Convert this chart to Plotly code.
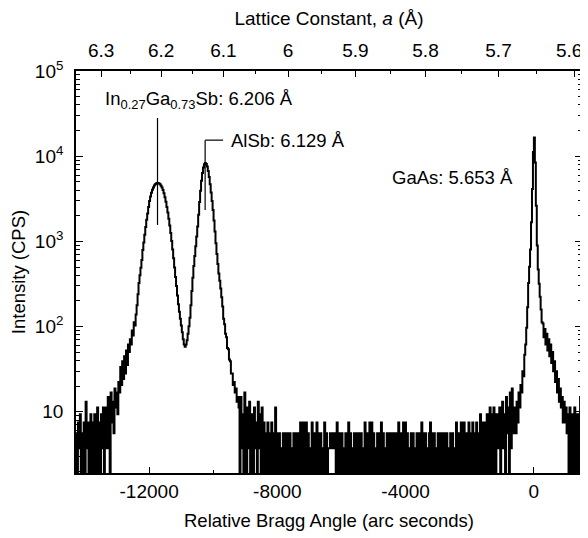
import numpy as np
import plotly.graph_objects as go

# ---------------- data ----------------
# omega-2theta scan: start / step in arc seconds, dwell time per step (s)
scan_start = -14280.0
scan_step = 30.0
count_time = 0.535

# counts per step, region by region (left to right)
counts_left_bg = [3, 1, 4, 2, 5, 1, 3, 1, 4, 1, 7, 2, 4, 1, 3, 5, 1, 4, 1, 5, 1, 3, 6, 1, 4, 1, 5, 2, 6, 1, 5]
counts_ingasb_rise = [6, 2, 8, 3, 1, 9, 4, 7, 3, 10, 6, 9, 5, 12,
                      9, 18, 11, 21, 13, 24, 15, 28, 19, 33,
                      27, 38, 33, 48, 42, 60, 55, 74,
                      95, 128, 174, 214, 263, 324]
counts_ingasb_peak = [424, 520, 640, 790, 960, 1140, 1360, 1600, 1800, 1990, 2160, 2300,
                      2420, 2510, 2560, 2590, 2590, 2560, 2500, 2410, 2290, 2140, 1960, 1760,
                      1560, 1360, 1170, 990, 820, 670, 540, 430, 340, 265, 205, 160, 124, 98,
                      80, 66, 55, 46, 38, 33]
counts_valley_alsb = [31, 33, 37, 44, 54, 68, 95, 140, 200, 275, 360, 470, 610,
                      800, 1100, 1550, 2100, 2750, 3400, 3950, 4300, 4440, 4350,
                      4050, 3600, 3050, 2500, 2000, 1600, 1250, 940, 700, 510,
                      380, 290, 225, 185, 150, 118, 92, 66, 57, 44, 40, 30, 29, 22,
                      21, 15, 15, 11, 12, 9, 10, 7, 8]
counts_alsb_tail = [6, 1, 8, 2, 5, 1, 9, 3, 1, 6, 2, 7, 1, 5, 3, 1, 6, 2, 4, 1, 7, 2, 5, 1, 6, 1]
counts_background = [4, 1, 3, 1, 4, 1, 3, 1, 4, 1, 3, 1, 6, 1,
                     3, 1, 3, 1, 2, 1, 3, 1, 3, 1, 2, 3, 1, 3, 1, 2, 1, 3, 3, 1, 3, 1, 3, 1,
                     4, 1, 3, 4, 1, 3, 4, 1,
                     3, 1, 2, 1, 4, 1, 3, 1, 3, 4, 1, 3, 1, 3, 1, 2, 1, 4, 1, 3, 1, 2,
                     2, 3, 2, 3, 2, 2, 3, 1, 4, 1, 3, 2, 1,
                     3, 1, 2, 1, 3, 1, 3, 4, 1, 3, 1, 2, 1, 3, 1, 3, 1, 2, 3, 1, 3, 1, 2, 1, 4,
                     1, 3, 1, 3, 4, 1, 4, 1, 3, 1, 2, 1, 3, 1, 3, 1, 4, 1, 3, 1, 2, 1, 3, 1, 3, 1, 2, 3, 1, 3,
                     1, 3, 1, 3, 4, 1, 3, 1, 3, 4, 1, 4, 1, 3, 1, 2, 1, 3, 1, 3, 1, 2, 1, 3, 1, 3, 1, 3, 4, 1,
                     3, 1, 3, 1, 2, 1, 3, 4, 1, 3, 1, 3, 1, 2, 1, 3, 1, 3, 1, 2,
                     3, 1, 3, 1, 3, 1, 2, 1, 3, 1, 3, 1, 2, 1, 4, 1, 3, 1, 3, 4,
                     1, 3, 4, 1, 3, 1, 3, 4, 1, 3, 1, 4, 1, 3, 1, 4, 1, 3, 1, 5, 1, 4, 1, 4, 1, 3, 5, 1, 4, 6,
                     1, 5, 1, 6, 3, 1, 5, 2, 4, 6, 1, 4, 7, 2, 5, 1, 8, 3, 6, 1, 9, 2, 10]
counts_gaas = [4, 3, 6, 3, 7, 4, 9, 6, 11, 9, 16, 14, 25, 33, 52, 90, 174,
               270, 430, 900, 2200, 6000, 8880, 4500, 1400, 480, 250, 170, 120, 85, 60,
               58, 40, 50, 33, 44, 28, 38, 24, 33, 20, 27, 16, 21, 12, 16, 9, 13, 7, 10, 6,
               8, 4, 7, 4, 6, 3, 5]
counts_right_bg = [1, 6, 1, 5, 1, 4, 6, 1, 3, 5, 1, 4, 8, 1, 5]

# peaks and top-axis lattice constants (Angstrom)
a_gaas = 5.653
a_alsb = 6.129
a_ingasb = 6.206
lattice_ticks = [6.3, 6.2, 6.1, 6.0, 5.9, 5.8, 5.7, 5.6]
lattice_labels = ["6.3", "6.2", "6.1", "6", "5.9", "5.8", "5.7", "5.6"]
lattice_minor = [6.25, 6.15, 6.05, 5.95, 5.85, 5.75, 5.65]

angle_ticks = [-12000, -8000, -4000, 0]
angle_labels = ["-12000", "-8000", "-4000", "0"]
angle_minor = [-14000, -10000, -6000, -2000]

# (004) reflection, Cu K-alpha1
wavelength = 1.5406
hkl_sq = 16


def bragg_offset(a):
    """Relative Bragg angle (arc s) of lattice constant a vs GaAs."""
    k = wavelength * np.sqrt(hkl_sq) / 2.0
    th = np.degrees(np.arcsin(k / np.asarray(a, dtype=float)))
    th0 = np.degrees(np.arcsin(k / a_gaas))
    return (th - th0) * 3600.0


counts = np.array(counts_left_bg + counts_ingasb_rise + counts_ingasb_peak + counts_valley_alsb
                  + counts_alsb_tail + counts_background + counts_gaas + counts_right_bg, dtype=float)
angle = scan_start + scan_step * np.arange(len(counts))
cps = counts / count_time

x_range = [scan_start, angle[-1]]
y_range = [np.log10(1.91), 5.0005]

FONT = "Liberation Sans, Arial, Helvetica, sans-serif"
TICK = 19
TXT = 18.5

fig = go.Figure()
fig.add_trace(go.Scatter(x=angle, y=cps, mode="lines",
                         line=dict(color="black", width=2.0, shape="hv"),
                         showlegend=False, hoverinfo="skip"))
fig.add_trace(go.Scatter(x=angle, y=cps, xaxis="x2", mode="lines",
                         line=dict(color="rgba(0,0,0,0)", width=0),
                         showlegend=False, hoverinfo="skip"))

ymin_dec = [m * 10 ** d for d in range(0, 5) for m in range(2, 10)]

# the last top label sits at the figure edge: it is drawn right-aligned as an annotation
top_ticktext = lattice_labels[:-1] + [""]

# the page body adds an 8 px offset, so the figure is 8 px smaller than the window
fig.update_layout(
    width=580, height=530,
    margin=dict(l=68, r=6, t=63, b=65),
    paper_bgcolor="white", plot_bgcolor="white",
    font=dict(family=FONT, size=TICK, color="black"),
    xaxis=dict(range=x_range, tickvals=angle_ticks, ticktext=angle_labels,
               ticks="inside", ticklen=6, tickwidth=1.3, tickcolor="black",
               minor=dict(tickvals=angle_minor, ticks="inside", ticklen=3.5, tickwidth=1.1, tickcolor="black"),
               showline=True, linewidth=1.6, linecolor="black", mirror=False,
               showgrid=False, zeroline=False, automargin=False, ticklabelstandoff=0,
               tickfont=dict(size=TICK),
               title=dict(text="Relative Bragg Angle (arc seconds)", font=dict(size=TXT), standoff=13)),
    xaxis2=dict(overlaying="x", side="top", anchor="y", range=x_range,
                tickvals=list(bragg_offset(lattice_ticks)), ticktext=top_ticktext,
                ticks="inside", ticklen=6, tickwidth=1.3, tickcolor="black",
                minor=dict(tickvals=list(bragg_offset(lattice_minor)), ticks="inside", ticklen=3.5,
                           tickwidth=1.1, tickcolor="black"),
                showline=True, linewidth=1.6, linecolor="black",
                showgrid=False, zeroline=False, automargin=False, ticklabelstandoff=5,
                tickfont=dict(size=TICK),
                title=dict(text="Lattice Constant, <i>a</i> (Å)", font=dict(size=19), standoff=12)),
    yaxis=dict(type="log", range=y_range,
               tickvals=[10, 100, 1000, 10000, 100000],
               ticktext=["10", "10<sup>2</sup>", "10<sup>3</sup>", "10<sup>4</sup>", "10<sup>5</sup>"],
               ticks="inside", ticklen=7, tickwidth=1.3, tickcolor="black",
               minor=dict(tickvals=ymin_dec, ticks="inside", ticklen=4, tickwidth=1.0, tickcolor="black"),
               showline=True, linewidth=1.6, linecolor="black", mirror="ticks",
               showgrid=False, zeroline=False, automargin=False, ticklabelstandoff=7,
               tickfont=dict(size=TICK),
               title=dict(text="Intensity (CPS)", font=dict(size=TXT), standoff=7)),
)

x_in = float(bragg_offset(a_ingasb))
x_alsb = float(bragg_offset(a_alsb))
lead = dict(color="black", width=1.2)
fig.update_layout(shapes=[
    dict(type="line", xref="x", yref="paper", x0=x_in, x1=x_in, y0=0.617, y1=0.883, line=lead),
    dict(type="line", xref="x", yref="paper", x0=x_alsb, x1=x_alsb, y0=0.654, y1=0.828, line=lead),
    dict(type="line", xref="x", yref="paper", x0=x_alsb, x1=x_alsb + 560, y0=0.828, y1=0.828, line=lead),
])

fig.update_layout(annotations=[
    dict(text="In<sub>0.27</sub>Ga<sub>0.73</sub>Sb: %.3f Å" % a_ingasb, xref="paper", yref="paper",
         x=0.053, y=0.928, xanchor="left", yanchor="middle", showarrow=False, font=dict(size=TXT)),
    dict(text="AlSb: %.3f Å" % a_alsb, xref="paper", yref="paper",
         x=0.302, y=0.828, xanchor="left", yanchor="middle", showarrow=False, font=dict(size=TXT)),
    dict(text="GaAs: %.3f Å" % a_gaas, xref="paper", yref="paper",
         x=0.62, y=0.736, xanchor="left", yanchor="middle", showarrow=False, font=dict(size=TXT)),
    dict(text=lattice_labels[-1], xref="paper", yref="paper", x=1.004, y=1.052,
         xanchor="right", yanchor="middle", showarrow=False, font=dict(size=TICK)),
])

fig.write_html("out.html")
